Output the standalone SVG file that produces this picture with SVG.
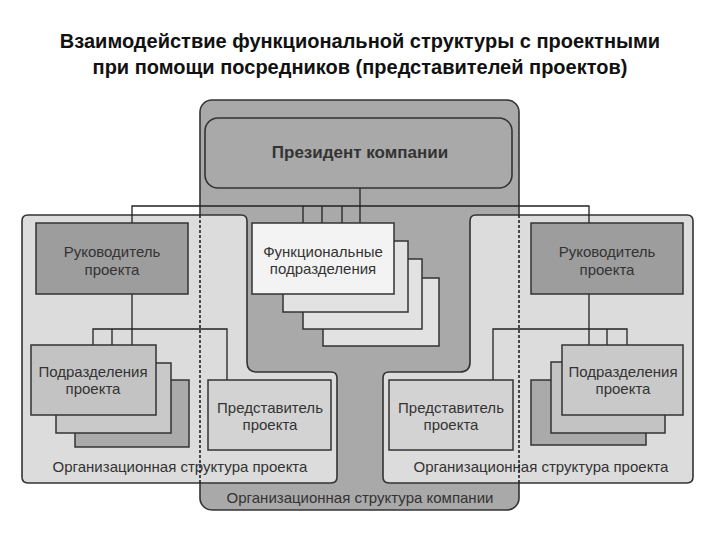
<svg xmlns="http://www.w3.org/2000/svg" width="720" height="540" viewBox="0 0 720 540">
<style>
.bg{fill:#ffffff}
.title{font-family:"Liberation Sans",Arial,sans-serif;font-weight:bold;font-size:20px;fill:#111;text-anchor:middle}
.t{font-family:"Liberation Sans",Arial,sans-serif;font-size:15px;fill:#333;text-anchor:middle}
.tb{font-family:"Liberation Sans",Arial,sans-serif;font-size:17px;font-weight:bold;fill:#333;text-anchor:middle}
.lbl{font-family:"Liberation Sans",Arial,sans-serif;font-size:15px;fill:#333;text-anchor:middle}
.company{fill:#a9a9a9;stroke:#333;stroke-width:1.6}
.project{fill:#dcdcdc;stroke:#333;stroke-width:1.6}
.dash{fill:none;stroke:#222;stroke-width:1.6;stroke-dasharray:3 2}
.box{stroke:#333;stroke-width:1.5}
.dark{fill:#9d9d9d}
.white{fill:#f3f3f3}
.back1{fill:#e2e2e2}
.mid{fill:#c3c3c3}
.mid2{fill:#c9c9c9}
.deep{fill:#aaaaaa}
.rep{fill:#d3d3d3}
.conn{fill:none;stroke:#222;stroke-width:1.3}
</style>
<rect class="bg" x="0" y="0" width="720" height="540"/>
<g id="title">
<text class="title" x="360" y="48">Взаимодействие функциональной структуры с проектными</text>
<text class="title" x="360" y="74">при помощи посредников (представителей проектов)</text>
</g>
<g id="company-structure">
<rect class="company" x="200" y="100" width="319" height="410" rx="12"/>
<text class="lbl" x="360" y="503" font-size="14">Организационная структура компании</text>
</g>
<g id="project-left">
<path class="project" d="M28,215 H241 Q247,215 247,221 V362 Q247,372 257,372 H331 Q337,372 337,378 V477 Q337,483 331,483 H28 Q22,483 22,477 V221 Q22,215 28,215 Z"/>
<text class="lbl" x="180" y="472">Организационная структура проекта</text>
</g>
<g id="project-right">
<path class="project" d="M476,215 H687 Q693,215 693,221 V477 Q693,483 687,483 H389 Q383,483 383,477 V378 Q383,372 389,372 H460 Q470,372 470,362 V221 Q470,215 476,215 Z"/>
<text class="lbl" x="541" y="472">Организационная структура проекта</text>
</g>
<g id="company-border-dashed">
<line class="dash" x1="200" y1="215" x2="200" y2="483"/>
<line class="dash" x1="519" y1="215" x2="519" y2="483"/>
</g>
<g id="president">
<rect class="company" x="205" y="118" width="307" height="70" rx="13"/>
<text class="tb" x="360" y="158">Президент компании</text>
</g>
<g id="connectors">
<path class="conn" d="M360,188 V206"/>
<path class="conn" d="M132,223 V206 H589 V223"/>
<path class="conn" d="M303,206 V223 M322,206 V223 M342,206 V223 M360,206 V223"/>
<path class="conn" d="M132,294 V329"/>
<path class="conn" d="M93,345 V329 H227 V380"/>
<path class="conn" d="M112,329 V345 M132,329 V345"/>
<path class="conn" d="M589,294 V329"/>
<path class="conn" d="M493,380 V329 H627 V345"/>
<path class="conn" d="M589,329 V345 M607,329 V345"/>
</g>
<g id="functional-units">
<rect class="box back1" x="323" y="278" width="116" height="68"/>
<rect class="box back1" x="303" y="259" width="119" height="70"/>
<rect class="box back1" x="283" y="241" width="125" height="71"/>
<rect class="box white" x="252" y="223" width="142" height="71"/>
<text class="t" x="323" y="257">Функциональные</text>
<text class="t" x="323" y="274">подразделения</text>
</g>
<g id="manager-left">
<rect class="box dark" x="36" y="223" width="152" height="71"/>
<text class="t" x="112" y="257" font-size="16">Руководитель</text>
<text class="t" x="112" y="275" font-size="16">проекта</text>
</g>
<g id="manager-right">
<rect class="box dark" x="531" y="223" width="152" height="71"/>
<text class="t" x="607" y="257" font-size="16">Руководитель</text>
<text class="t" x="607" y="275" font-size="16">проекта</text>
</g>
<g id="units-left">
<rect class="box deep" x="75" y="380" width="114" height="67"/>
<rect class="box mid2" x="56" y="363" width="115" height="70"/>
<rect class="box mid" x="31" y="345" width="125" height="70"/>
<text class="t" x="93" y="377">Подразделения</text>
<text class="t" x="93" y="394">проекта</text>
</g>
<g id="units-right">
<rect class="box deep" x="531" y="380" width="115" height="65"/>
<rect class="box mid" x="551" y="362" width="114" height="71"/>
<rect class="box mid2" x="562" y="345" width="121" height="70"/>
<text class="t" x="623" y="377">Подразделения</text>
<text class="t" x="623" y="394">проекта</text>
</g>
<g id="rep-left">
<rect class="box rep" x="208" y="380" width="123" height="70"/>
<text class="t" x="270" y="413">Представитель</text>
<text class="t" x="270" y="430">проекта</text>
</g>
<g id="rep-right">
<rect class="box rep" x="389" y="380" width="124" height="70"/>
<text class="t" x="451" y="413">Представитель</text>
<text class="t" x="451" y="430">проекта</text>
</g>
</svg>
